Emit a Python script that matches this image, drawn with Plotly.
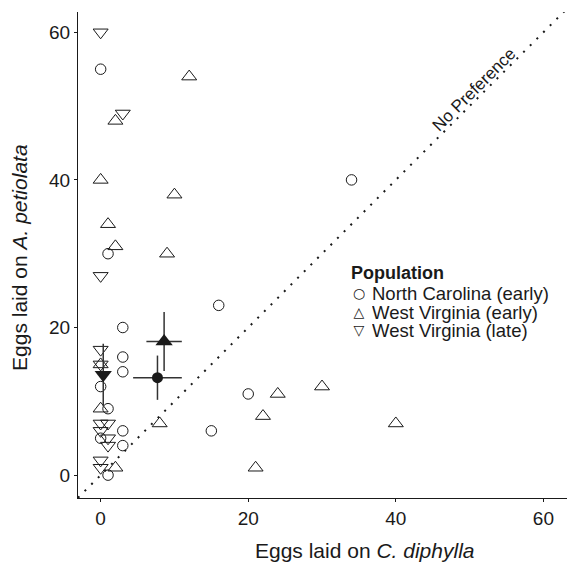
import plotly.graph_objects as go

# ---- data ----
nc_x = [0, 1, 34, 16, 3, 3, 3, 0, 1, 0, 3, 3, 15, 20, 1]
nc_y = [55, 30, 40, 23, 20, 16, 14, 12, 9, 5, 6, 4, 6, 11, 0]

wve_x = [12, 2, 0, 10, 1, 2, 9, 0, 0, 8, 2, 21, 22, 24, 30, 40]
wve_y = [54, 48, 40, 38, 34, 31, 30, 15, 9, 7, 1, 1, 8, 11, 12, 7]

wvl_x = [0, 3, 0, 0, 0, 0, 1, 0, 1, 1, 0, 0]
wvl_y = [60, 49, 27, 17, 15, 7, 7, 6, 5, 4, 2, 1]

mean_names = ["North Carolina (early)", "West Virginia (early)", "West Virginia (late)"]
mean_x = [7.7, 8.6, 0.35]
mean_y = [13.2, 18.1, 13.6]
se_x = [3.3, 2.4, 0.3]
se_y = [3.0, 4.0, 4.2]

x_ticks = [0, 20, 40, 60]
y_ticks = [0, 20, 40, 60]

FONT = "Liberation Sans, Arial, Helvetica, sans-serif"
INK = "#1a1a1a"

fig = go.Figure()

def open_trace(x, y, sym, size):
    fig.add_trace(go.Scatter(
        x=x, y=y, mode="markers", showlegend=False, cliponaxis=False,
        marker=dict(symbol=sym, size=size, color=INK, line=dict(width=1, color=INK)),
    ))

open_trace(nc_x, nc_y, "circle-open", 10.5)
open_trace(wve_x, wve_y, "triangle-up-open", 13)
open_trace(wvl_x, wvl_y, "triangle-down-open", 13)

mean_syms = ["circle", "triangle-up", "triangle-down"]
mean_sizes = [11, 15, 15]
for i in range(3):
    fig.add_trace(go.Scatter(
        x=[mean_x[i]], y=[mean_y[i]], mode="markers", showlegend=False,
        marker=dict(symbol=mean_syms[i], size=mean_sizes[i], color=INK,
                    line=dict(width=0)),
        error_x=dict(type="data", array=[se_x[i]], thickness=1.5, width=0, color="#333"),
        error_y=dict(type="data", array=[se_y[i]], thickness=1.5, width=0, color="#333"),
    ))

XR = [-3.07, 63.2]
YR = [-3.1, 62.75]

# 1:1 "no preference" line
fig.add_shape(type="line", xref="x", yref="y", x0=XR[0], y0=XR[0], x1=XR[1], y1=XR[1],
              line=dict(color=INK, width=2, dash="2px,7.4px"), layer="below")

fig.add_annotation(x=50.6, y=50.6, xref="x", yref="y", text="No Preference",
                   textangle=-45, showarrow=False, yshift=12.5,
                   font=dict(family=FONT, size=17, color=INK))

# axis titles
fig.add_annotation(x=35.7, xref="x", y=-0.109, yref="paper",
                   text="Eggs laid on <i>C. diphylla</i>", showarrow=False,
                   xanchor="center", yanchor="middle",
                   font=dict(family=FONT, size=21, color=INK))
fig.add_annotation(x=-0.1186, xref="paper", y=0.494, yref="paper",
                   text="Eggs laid on <i>A. petiolata</i>", showarrow=False,
                   textangle=-90, xanchor="center", yanchor="middle",
                   font=dict(family=FONT, size=21, color=INK))

# legend (text)
fig.add_annotation(x=0.556, y=0.463, xref="paper", yref="paper",
                   text="<b>Population</b>", showarrow=False,
                   xanchor="left", yanchor="middle", height=21, borderpad=0,
                   font=dict(family=FONT, size=18, color=INK))
leg_glyphs = ["○", "△", "▽"]
leg_y = [0.4212, 0.3833, 0.3457]
for g, name, yy in zip(leg_glyphs, mean_names, leg_y):
    fig.add_annotation(x=0.5746, y=yy, xref="paper", yref="paper", text=g,
                       showarrow=False, xanchor="center", yanchor="middle",
                       height=18, width=12, borderpad=0,
                       font=dict(family="DejaVu Sans", size=14, color=INK))
    fig.add_annotation(x=0.599, y=yy, xref="paper", yref="paper", text=name,
                       showarrow=False, xanchor="left", yanchor="middle",
                       height=22, borderpad=0,
                       font=dict(family=FONT, size=18.5, color=INK))

axis_common = dict(
    showgrid=False, zeroline=False, showline=True, linecolor=INK, linewidth=1.2,
    ticks="outside", ticklen=3, tickwidth=1, tickcolor=INK, mirror=False,
    tickfont=dict(family=FONT, size=19, color=INK),
)
fig.update_xaxes(range=XR, tickvals=x_ticks, ticktext=[str(v) for v in x_ticks], **axis_common)
fig.update_yaxes(range=YR, tickvals=y_ticks, ticktext=[str(v) for v in y_ticks], **axis_common)

fig.update_layout(
    width=567, height=562,
    margin=dict(l=78, r=0, t=12, b=64),
    plot_bgcolor="white", paper_bgcolor="white",
    font=dict(family=FONT, color=INK),
)

fig.write_html(
    "out.html",
    config={"displayModeBar": False},
    post_script="document.body.style.margin='0px';document.body.style.overflow='hidden';"
                "document.documentElement.style.overflow='hidden';",
)
